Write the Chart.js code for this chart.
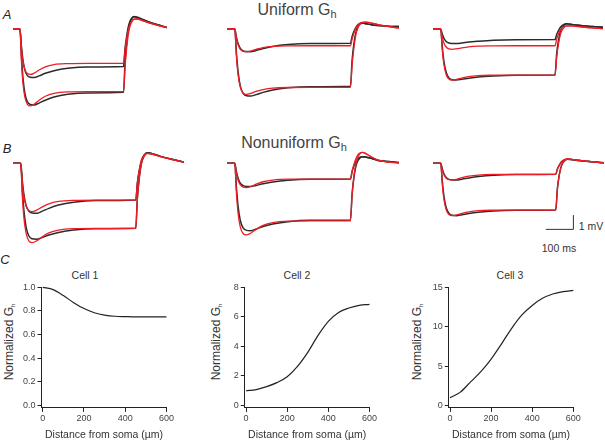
<!DOCTYPE html>
<html>
<head>
<meta charset="utf-8">
<script src="https://cdn.jsdelivr.net/npm/chart.js@4.4.1/dist/chart.umd.min.js"></script>
<style>
  html, body { margin: 0; padding: 0; background: #fff; }
  #fig { position: relative; width: 605px; height: 441px; overflow: hidden;
         font-family: "Liberation Sans", Arial, sans-serif; color: #333; }
  #fig canvas { position: absolute; }
  .txt { position: absolute; white-space: nowrap; transform: translate(-50%, -50%); line-height: 1; }
  .panel { font-style: italic; font-size: 13px; color: #222; }
  .head { font-size: 16px; color: #444; }
  .head sub { font-size: 11px; vertical-align: -3px; }
  .cell { font-size: 10.5px; color: #333; }
  .ytitle { font-size: 12px; color: #333; transform: translate(-50%, -50%) rotate(-90deg); }
  .ytitle sub { font-size: 6px; vertical-align: -2px; }
  .bar { font-size: 10.5px; color: #333; }
</style>
</head>
<body>
<div id="fig">
  <div class="txt panel" style="left:7px;top:14px">A</div>
  <div class="txt panel" style="left:7px;top:148px">B</div>
  <div class="txt panel" style="left:5px;top:259px">C</div>
  <div class="txt head" style="left:297px;top:11px">Uniform G<sub>h</sub></div>
  <div class="txt head" style="left:294px;top:144px">Nonuniform G<sub>h</sub></div>
  <div class="txt bar" style="left:591px;top:226px">1 mV</div>
  <div class="txt bar" style="left:559px;top:248px">100 ms</div>
  <div class="txt cell" style="left:85px;top:275px">Cell 1</div>
  <div class="txt cell" style="left:297px;top:275px">Cell 2</div>
  <div class="txt cell" style="left:510px;top:275px">Cell 3</div>
  <div class="txt ytitle" style="left:9px;top:342px">Normalized G<sub>h</sub></div>
  <div class="txt ytitle" style="left:216px;top:342px">Normalized G<sub>h</sub></div>
  <div class="txt ytitle" style="left:417px;top:342px">Normalized G<sub>h</sub></div>
</div>
<script>
// Tiempo (ms) comun a todos los registros
const timeMs = [0, 28, 34, 40, 48, 58, 70, 85, 105, 130, 165, 220, 300, 445, 451, 458, 466, 476, 488, 502, 520, 545, 580, 620];

// A: Gh uniforme (registro negro = Rec, modelo rojo = Fit), mV
const a1RecSmall = [0, 0, -1.22, -2.18, -2.89, -3.26, -3.38, -3.40, -3.28, -3.10, -2.92, -2.75, -2.65, -2.62, -1.37, -0.44, 0.29, 0.70, 0.85, 0.79, 0.66, 0.49, 0.30, 0.10];
const a1FitSmall = [0, 0, -1.34, -2.23, -2.83, -3.12, -3.18, -3.09, -2.87, -2.65, -2.49, -2.42, -2.40, -2.40, -1.45, -0.62, 0.07, 0.50, 0.69, 0.70, 0.60, 0.45, 0.27, 0.09];
const a1RecLarge = [0, 0, -1.91, -3.40, -4.51, -5.10, -5.28, -5.31, -5.18, -4.98, -4.76, -4.57, -4.47, -4.43, -2.37, -0.91, 0.13, 0.68, 0.88, 0.82, 0.69, 0.51, 0.31, 0.11];
const a1FitLarge = [0, 0, -2.26, -3.77, -4.79, -5.27, -5.38, -5.26, -4.98, -4.70, -4.50, -4.40, -4.38, -4.38, -2.68, -1.28, -0.18, 0.42, 0.69, 0.70, 0.60, 0.45, 0.27, 0.09];

const a2RecSmall = [0, 0, -0.57, -1.02, -1.35, -1.53, -1.58, -1.59, -1.50, -1.37, -1.22, -1.09, -1.02, -1.00, -0.52, -0.14, 0.17, 0.36, 0.42, 0.37, 0.30, 0.24, 0.20, 0.17];
const a2FitSmall = [0, 0, -0.67, -1.11, -1.42, -1.56, -1.59, -1.54, -1.42, -1.30, -1.22, -1.18, -1.17, -1.17, -0.70, -0.27, 0.11, 0.36, 0.47, 0.48, 0.41, 0.31, 0.18, 0.06];
const a2RecLarge = [0, 0, -1.69, -3.00, -3.99, -4.50, -4.67, -4.69, -4.59, -4.43, -4.26, -4.11, -4.03, -4.00, -2.17, -0.95, -0.13, 0.27, 0.42, 0.37, 0.30, 0.24, 0.20, 0.17];
const a2FitLarge = [0, 0, -1.92, -3.20, -4.07, -4.48, -4.57, -4.51, -4.37, -4.24, -4.14, -4.09, -4.08, -4.08, -2.51, -1.23, -0.27, 0.25, 0.47, 0.48, 0.41, 0.31, 0.18, 0.06];

const a3RecSmall = [0, 0, -0.37, -0.65, -0.87, -0.98, -1.01, -1.02, -0.98, -0.91, -0.85, -0.78, -0.75, -0.74, -0.38, -0.09, 0.16, 0.31, 0.36, 0.33, 0.28, 0.23, 0.18, 0.12];
const a3FitSmall = [0, 0, -0.60, -0.99, -1.26, -1.39, -1.42, -1.39, -1.32, -1.25, -1.20, -1.18, -1.17, -1.17, -0.71, -0.33, -0.03, 0.14, 0.22, 0.22, 0.19, 0.14, 0.08, 0.03];
const a3RecLarge = [0, 0, -1.29, -2.28, -3.03, -3.43, -3.55, -3.57, -3.52, -3.44, -3.35, -3.28, -3.23, -3.22, -1.74, -0.75, -0.09, 0.23, 0.36, 0.33, 0.28, 0.23, 0.18, 0.12];
const a3FitLarge = [0, 0, -1.50, -2.50, -3.18, -3.50, -3.57, -3.53, -3.43, -3.33, -3.26, -3.23, -3.22, -3.22, -1.99, -1.01, -0.30, 0.06, 0.22, 0.22, 0.19, 0.14, 0.08, 0.03];

// B: Gh no uniforme
const b1RecSmall = [0, 0, -1.26, -2.24, -2.98, -3.36, -3.48, -3.50, -3.36, -3.15, -2.92, -2.72, -2.61, -2.57, -1.35, -0.46, 0.22, 0.60, 0.74, 0.69, 0.58, 0.43, 0.26, 0.09];
const b1FitSmall = [0, 0, -1.42, -2.37, -3.01, -3.31, -3.38, -3.28, -3.06, -2.83, -2.67, -2.59, -2.57, -2.57, -1.36, -0.47, 0.20, 0.57, 0.70, 0.65, 0.55, 0.41, 0.25, 0.08];
const b1RecLarge = [0, 0, -1.91, -3.40, -4.51, -5.10, -5.28, -5.31, -5.20, -5.02, -4.84, -4.67, -4.58, -4.55, -2.44, -0.99, 0.03, 0.54, 0.74, 0.69, 0.58, 0.43, 0.26, 0.09];
const b1FitLarge = [0, 0, -2.33, -3.89, -4.94, -5.44, -5.55, -5.43, -5.15, -4.87, -4.67, -4.57, -4.55, -4.55, -2.45, -1.01, 0.00, 0.51, 0.70, 0.65, 0.55, 0.41, 0.25, 0.08];

const b2RecSmall = [0, 0, -0.59, -1.04, -1.39, -1.56, -1.62, -1.63, -1.55, -1.43, -1.30, -1.18, -1.12, -1.10, -0.57, -0.15, 0.19, 0.39, 0.46, 0.43, 0.36, 0.20, 0.12, 0.05];
const b2FitSmall = [0, 0, -0.71, -1.19, -1.51, -1.67, -1.70, -1.63, -1.46, -1.29, -1.17, -1.11, -1.10, -1.10, -0.54, -0.05, 0.39, 0.68, 0.77, 0.66, 0.45, 0.22, 0.08, 0.03];
const b2RecLarge = [0, 0, -1.70, -3.01, -4.00, -4.52, -4.69, -4.71, -4.60, -4.42, -4.25, -4.08, -3.99, -3.96, -2.14, -0.92, -0.10, 0.30, 0.46, 0.43, 0.36, 0.20, 0.12, 0.05];
const b2FitLarge = [0, 0, -2.10, -3.51, -4.46, -4.91, -5.01, -4.89, -4.62, -4.34, -4.15, -4.05, -4.03, -4.03, -2.16, -0.84, 0.10, 0.59, 0.77, 0.66, 0.45, 0.22, 0.08, 0.03];

const b3RecSmall = [0, 0, -0.42, -0.75, -0.99, -1.12, -1.16, -1.17, -1.11, -1.02, -0.92, -0.83, -0.79, -0.77, -0.40, -0.12, 0.11, 0.24, 0.28, 0.26, 0.22, 0.16, 0.10, 0.03];
const b3FitSmall = [0, 0, -0.49, -0.82, -1.04, -1.15, -1.17, -1.12, -1.01, -0.90, -0.82, -0.78, -0.77, -0.77, -0.41, -0.12, 0.12, 0.26, 0.30, 0.28, 0.23, 0.17, 0.10, 0.03];
const b3RecLarge = [0, 0, -1.32, -2.34, -3.11, -3.51, -3.64, -3.66, -3.60, -3.51, -3.42, -3.33, -3.29, -3.27, -1.78, -0.79, -0.15, 0.16, 0.28, 0.26, 0.22, 0.16, 0.10, 0.03];
const b3FitLarge = [0, 0, -1.54, -2.56, -3.26, -3.59, -3.66, -3.61, -3.50, -3.39, -3.31, -3.28, -3.27, -3.27, -1.78, -0.79, -0.15, 0.16, 0.30, 0.28, 0.23, 0.17, 0.10, 0.03];

// Barra de escala
const scaleBarMs = 100;
const scaleBarMv = 1;

// C: perfiles de Gh normalizado vs distancia al soma
const distanceUm = [0, 50, 100, 150, 200, 250, 300, 350, 400, 450, 500, 550, 600];
const cell1Gh = [1.0, 0.98, 0.93, 0.87, 0.82, 0.785, 0.765, 0.755, 0.752, 0.75, 0.75, 0.75, 0.75];
const cell2Gh = [1.0, 1.08, 1.28, 1.55, 1.95, 2.65, 3.6, 4.75, 5.7, 6.3, 6.6, 6.78, 6.85];
const cell3Gh = [1.0, 1.7, 3.0, 4.3, 5.9, 7.8, 9.8, 11.5, 12.7, 13.6, 14.15, 14.45, 14.6];
const distTicks = [0, 200, 400, 600];
const cell1Ticks = [0, 0.2, 0.4, 0.6, 0.8, 1.0];
const cell2Ticks = [0, 2, 4, 6, 8];
const cell3Ticks = [0, 5, 10, 15];

const FONT = '"Liberation Sans", Arial, sans-serif';
const PX_PER_MV = 14.3;
const RED = '#ee1d25';
const BLACK = '#2b2b2b';
const fig = document.getElementById('fig');

function makeCanvas(left, top, w, h) {
  const c = document.createElement('canvas');
  c.width = w; c.height = h;
  c.style.left = left + 'px'; c.style.top = top + 'px';
  c.style.width = w + 'px'; c.style.height = h + 'px';
  fig.appendChild(c);
  return c;
}

function toXY(values) {
  return values.map((v, i) => ({ x: timeMs[i], y: v }));
}

// paneles de registros (sin ejes)
const tracePanels = [
  { left: 13,  width: 154, top: 8,   height: 105, baseY: 29,    rec: [a1RecSmall, a1RecLarge], fit: [a1FitSmall, a1FitLarge] },
  { left: 227, width: 172, top: 8,   height: 105, baseY: 29,    rec: [a2RecSmall, a2RecLarge], fit: [a2FitSmall, a2FitLarge] },
  { left: 433, width: 170, top: 8,   height: 105, baseY: 29,    rec: [a3RecSmall, a3RecLarge], fit: [a3FitSmall, a3FitLarge] },
  { left: 13,  width: 171, top: 140, height: 110, baseY: 163.3, rec: [b1RecSmall, b1RecLarge], fit: [b1FitSmall, b1FitLarge] },
  { left: 227, width: 172, top: 140, height: 110, baseY: 163.3, rec: [b2RecSmall, b2RecLarge], fit: [b2FitSmall, b2FitLarge] },
  { left: 433, width: 171, top: 140, height: 110, baseY: 163.3, rec: [b3RecSmall, b3RecLarge], fit: [b3FitSmall, b3FitLarge], scaleBar: { x: 509, y: -4.62 } }
];

tracePanels.forEach(p => {
  const yMax = (p.baseY - p.top) / PX_PER_MV;
  const yMin = yMax - p.height / PX_PER_MV;
  const datasets = [];
  p.fit.forEach(v => datasets.push({ data: toXY(v), borderColor: RED, borderWidth: 1.3 }));
  p.rec.forEach(v => datasets.push({ data: toXY(v), borderColor: BLACK, borderWidth: 1.5 }));
  if (p.scaleBar) {
    const sb = p.scaleBar;
    datasets.push({
      data: [{ x: sb.x - scaleBarMs, y: sb.y }, { x: sb.x, y: sb.y }, { x: sb.x, y: sb.y + scaleBarMv }],
      borderColor: '#333', borderWidth: 1, tension: 0, cubicInterpolationMode: 'default'
    });
  }
  datasets.forEach(d => { d.clip = false; d.pointRadius = 0; });
  new Chart(makeCanvas(p.left, p.top, p.width, p.height), {
    type: 'line',
    data: { datasets },
    options: {
      responsive: false, animation: false,
      layout: { padding: 0 },
      plugins: { legend: { display: false }, tooltip: { enabled: false } },
      elements: { line: { cubicInterpolationMode: 'monotone' } },
      scales: {
        x: { type: 'linear', min: 0, max: 620, display: false },
        y: { min: yMin, max: yMax, display: false }
      }
    }
  });
});

// paneles C
const profilePanels = [
  { values: cell1Gh, ticks: cell1Ticks, yMin: -0.02, yMax: 1.0, dec: 1,
    left: 0, width: 175, padRight: 8.3, yAxisW: 41.5 },
  { values: cell2Gh, ticks: cell2Ticks, yMin: -0.16, yMax: 8, dec: 0,
    left: 200, width: 178, padRight: 8, yAxisW: 44.8 },
  { values: cell3Gh, ticks: cell3Ticks, yMin: -0.3, yMax: 15, dec: 0,
    left: 400, width: 182, padRight: 8.7, yAxisW: 48.8 }
];

const axisStyle = {
  grid: { drawOnChartArea: false, drawTicks: true, tickLength: 4, tickColor: '#222', tickWidth: 1 },
  border: { display: true, color: '#222', width: 1 }
};

profilePanels.forEach(p => {
  new Chart(makeCanvas(p.left, 262, p.width, 179), {
    type: 'line',
    data: {
      datasets: [{
        data: p.values.map((v, i) => ({ x: distanceUm[i], y: v })),
        borderColor: '#222', borderWidth: 1.2, pointRadius: 0,
        cubicInterpolationMode: 'monotone', clip: false
      }]
    },
    options: {
      responsive: false, animation: false,
      layout: { padding: { left: 0, right: p.padRight, top: 25.3, bottom: 0 } },
      plugins: { legend: { display: false }, tooltip: { enabled: false } },
      scales: {
        x: {
          type: 'linear', min: -6, max: 600, ...axisStyle,
          afterBuildTicks: s => { s.ticks = distTicks.map(v => ({ value: v })); },
          afterFit: s => { s.height = 33.1; },
          ticks: { color: '#444', font: { family: FONT, size: 9 }, padding: 1, maxRotation: 0, autoSkip: false },
          title: { display: true, text: 'Distance from soma (µm)', color: '#333',
                   font: { family: FONT, size: 10.5 }, padding: { top: 0, bottom: 0 } }
        },
        y: {
          min: p.yMin, max: p.yMax, ...axisStyle,
          afterBuildTicks: s => { s.ticks = p.ticks.map(v => ({ value: v })); },
          afterFit: s => { s.width = p.yAxisW; },
          ticks: { color: '#444', font: { family: FONT, size: 9 }, padding: 2, autoSkip: false,
                   callback: v => v.toFixed(p.dec) }
        }
      }
    }
  });
});
</script>
</body>
</html>
